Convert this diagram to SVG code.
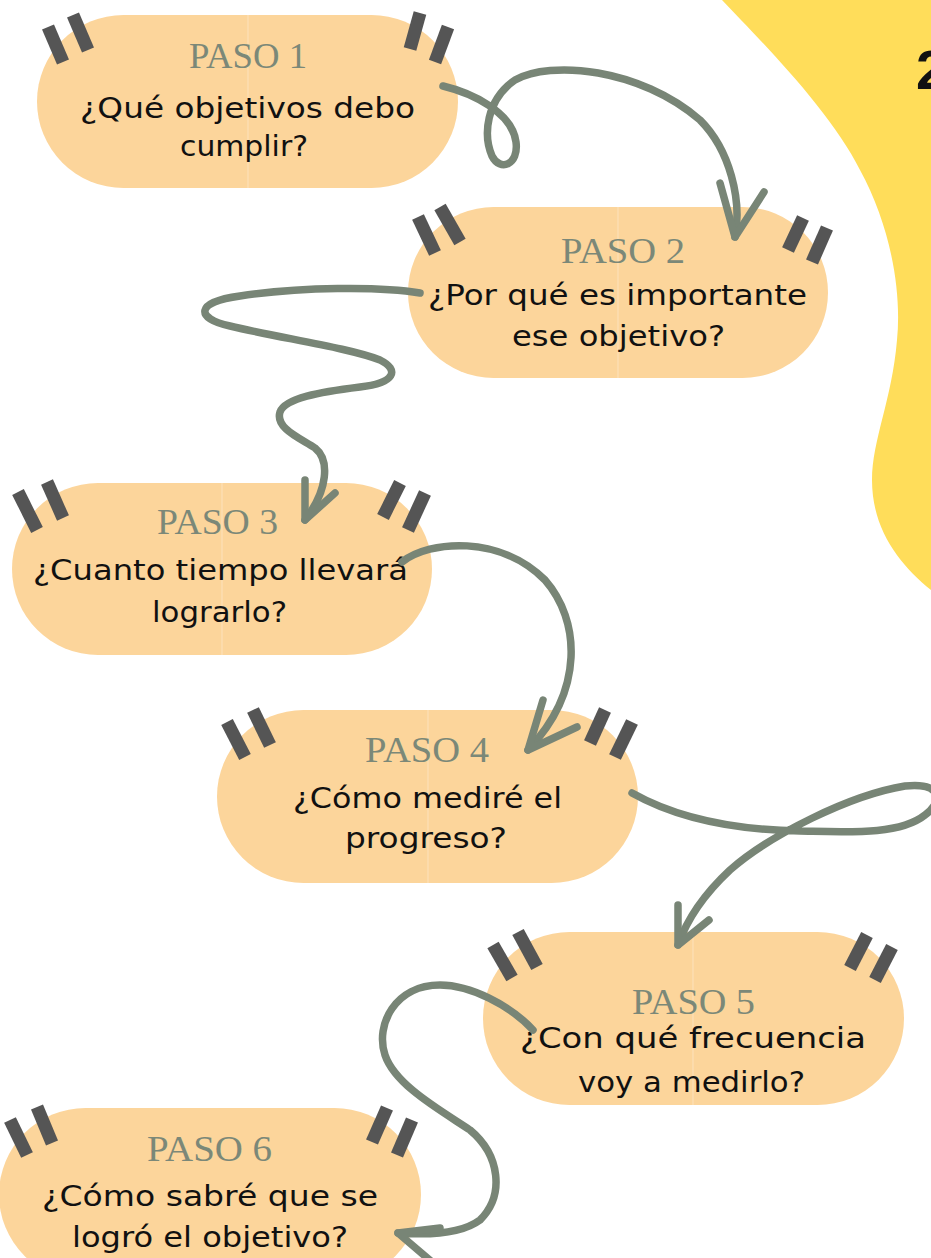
<svg xmlns="http://www.w3.org/2000/svg" width="931" height="1258" viewBox="0 0 931 1258">
<style>
.pill{fill:#FCD59B}
.seam{stroke:#FDE2BC;stroke-width:1}
.q{stroke:#555555;stroke-width:13;stroke-linecap:butt}
.paso{font-family:"Liberation Serif",serif;font-size:36px;fill:#7B8878;text-anchor:middle}
.body{font-family:"DejaVu Sans","Liberation Sans",sans-serif;font-size:29px;fill:#111111;text-anchor:middle}
.con{fill:none;stroke:#788576;stroke-width:7.5;stroke-linecap:round;stroke-linejoin:round}
</style>
<rect width="931" height="1258" fill="#FFFFFF"/>
<path d="M722,0 C760,40 830,110 860,170 C890,225 902,290 897,340 C892,400 872,440 872,480 C872,530 900,565 931,590 L931,0 Z" fill="#FFDD5A"/>
<text x="916" y="89" font-family="Liberation Sans,sans-serif" font-weight="bold" font-size="56" fill="#111111">2</text>

<g id="paso1">
<rect class="pill" x="37" y="15" width="421" height="173" rx="86.5"/>
<line class="seam" x1="248" y1="15" x2="248" y2="188"/>
<line class="q" x1="48" y1="27" x2="63" y2="62"/><line class="q" x1="73" y1="15" x2="88" y2="50"/>
<line class="q" x1="420" y1="13" x2="410" y2="49"/><line class="q" x1="448" y1="27" x2="435" y2="62"/>
<text class="paso" x="248" y="68" textLength="118" lengthAdjust="spacingAndGlyphs">PASO 1</text>
<text class="body" x="247.5" y="118" textLength="335" lengthAdjust="spacingAndGlyphs">¿Qué objetivos debo</text>
<text class="body" x="244" y="156" textLength="128" lengthAdjust="spacingAndGlyphs">cumplir?</text>
</g>

<g id="paso2">
<rect class="pill" x="408" y="207" width="420" height="171" rx="85.5"/>
<line class="seam" x1="618" y1="207" x2="618" y2="378"/>
<line class="q" x1="418" y1="217" x2="435" y2="253"/><line class="q" x1="440" y1="207" x2="460" y2="242"/>
<line class="q" x1="803" y1="218" x2="788" y2="250"/><line class="q" x1="827" y1="228" x2="812" y2="262"/>
<text class="paso" x="623" y="263" textLength="124" lengthAdjust="spacingAndGlyphs">PASO 2</text>
<text class="body" x="617.5" y="305" textLength="379" lengthAdjust="spacingAndGlyphs">¿Por qué es importante</text>
<text class="body" x="618.5" y="346" textLength="213" lengthAdjust="spacingAndGlyphs">ese objetivo?</text>
</g>

<g id="paso3">
<rect class="pill" x="12" y="483" width="420" height="172" rx="86"/>
<line class="seam" x1="222" y1="483" x2="222" y2="655"/>
<line class="q" x1="18" y1="492" x2="37" y2="530"/><line class="q" x1="47" y1="482" x2="63" y2="518"/>
<line class="q" x1="400" y1="483" x2="383" y2="517"/><line class="q" x1="425" y1="493" x2="408" y2="530"/>
<text class="paso" x="217.5" y="534" textLength="121" lengthAdjust="spacingAndGlyphs">PASO 3</text>
<text class="body" x="220.5" y="580" textLength="375" lengthAdjust="spacingAndGlyphs">¿Cuanto tiempo llevará</text>
<text class="body" x="219.5" y="622" textLength="135" lengthAdjust="spacingAndGlyphs">lograrlo?</text>
</g>

<g id="paso4">
<rect class="pill" x="217" y="710" width="421" height="173" rx="86.5"/>
<line class="seam" x1="428" y1="710" x2="428" y2="883"/>
<line class="q" x1="227" y1="722" x2="245" y2="757"/><line class="q" x1="253" y1="710" x2="270" y2="745"/>
<line class="q" x1="605" y1="710" x2="590" y2="743"/><line class="q" x1="632" y1="722" x2="615" y2="757"/>
<text class="paso" x="427" y="762" textLength="124" lengthAdjust="spacingAndGlyphs">PASO 4</text>
<text class="body" x="427.5" y="808" textLength="269" lengthAdjust="spacingAndGlyphs">¿Cómo mediré el</text>
<text class="body" x="426" y="848" textLength="162" lengthAdjust="spacingAndGlyphs">progreso?</text>
</g>

<g id="paso5">
<rect class="pill" x="483" y="932" width="421" height="173" rx="86.5"/>
<line class="seam" x1="693" y1="932" x2="693" y2="1105"/>
<line class="q" x1="493" y1="945" x2="512" y2="978"/><line class="q" x1="518" y1="932" x2="537" y2="967"/>
<line class="q" x1="867" y1="935" x2="850" y2="968"/><line class="q" x1="892" y1="947" x2="875" y2="980"/>
<text class="paso" x="693.5" y="1014" textLength="123" lengthAdjust="spacingAndGlyphs">PASO 5</text>
<text class="body" x="693" y="1048" textLength="346" lengthAdjust="spacingAndGlyphs">¿Con qué frecuencia</text>
<text class="body" x="691.5" y="1092" textLength="227" lengthAdjust="spacingAndGlyphs">voy a medirlo?</text>
</g>

<g id="paso6">
<rect class="pill" x="-1" y="1108" width="422" height="173" rx="86.5"/>
<line class="q" x1="10" y1="1120" x2="27" y2="1155"/><line class="q" x1="37" y1="1107" x2="52" y2="1143"/>
<line class="q" x1="387" y1="1108" x2="372" y2="1142"/><line class="q" x1="412" y1="1120" x2="397" y2="1155"/>
<text class="paso" x="209.5" y="1161" textLength="125" lengthAdjust="spacingAndGlyphs">PASO 6</text>
<text class="body" x="210" y="1206" textLength="336" lengthAdjust="spacingAndGlyphs">¿Cómo sabré que se</text>
<text class="body" x="210" y="1247" textLength="276" lengthAdjust="spacingAndGlyphs">logró el objetivo?</text>
</g>

<g id="connectors">
<path class="con" d="M443,86 C472,93 512,112 516,142 C519,165 500,172 492,156 C483,135 486,100 515,80 C550,60 640,68 700,120 C730,150 742,200 735,237"/>
<path class="con" d="M720,183 L735,237 L764,192"/>
<path class="con" d="M420,293 C380,286 300,287 240,296 C195,302 195,318 230,326 C280,338 350,348 380,360 C400,370 395,383 360,387 C320,392 285,398 280,412 C275,428 300,438 315,448 C330,460 328,490 305,520"/>
<path class="con" d="M305,480 L305,520 L335,493"/>
<path class="con" d="M402,562 C430,540 500,535 545,580 C580,620 585,690 528,750"/>
<path class="con" d="M543,700 L528,750 L577,727"/>
<path class="con" d="M632,793 C680,820 740,830 800,831 C850,832 900,835 925,815 C945,800 940,782 905,786 C850,795 770,835 730,870 C700,898 685,925 678,945"/>
<path class="con" d="M678,905 L678,945 L709,920"/>
<path class="con" d="M533,1030 C510,1005 470,985 440,985 C395,985 375,1025 385,1055 C395,1085 440,1110 470,1130 C500,1155 505,1195 480,1220 C460,1235 425,1235 398,1233"/>
<path class="con" d="M440,1228 L398,1233 L432,1262"/>
</g>
</svg>
